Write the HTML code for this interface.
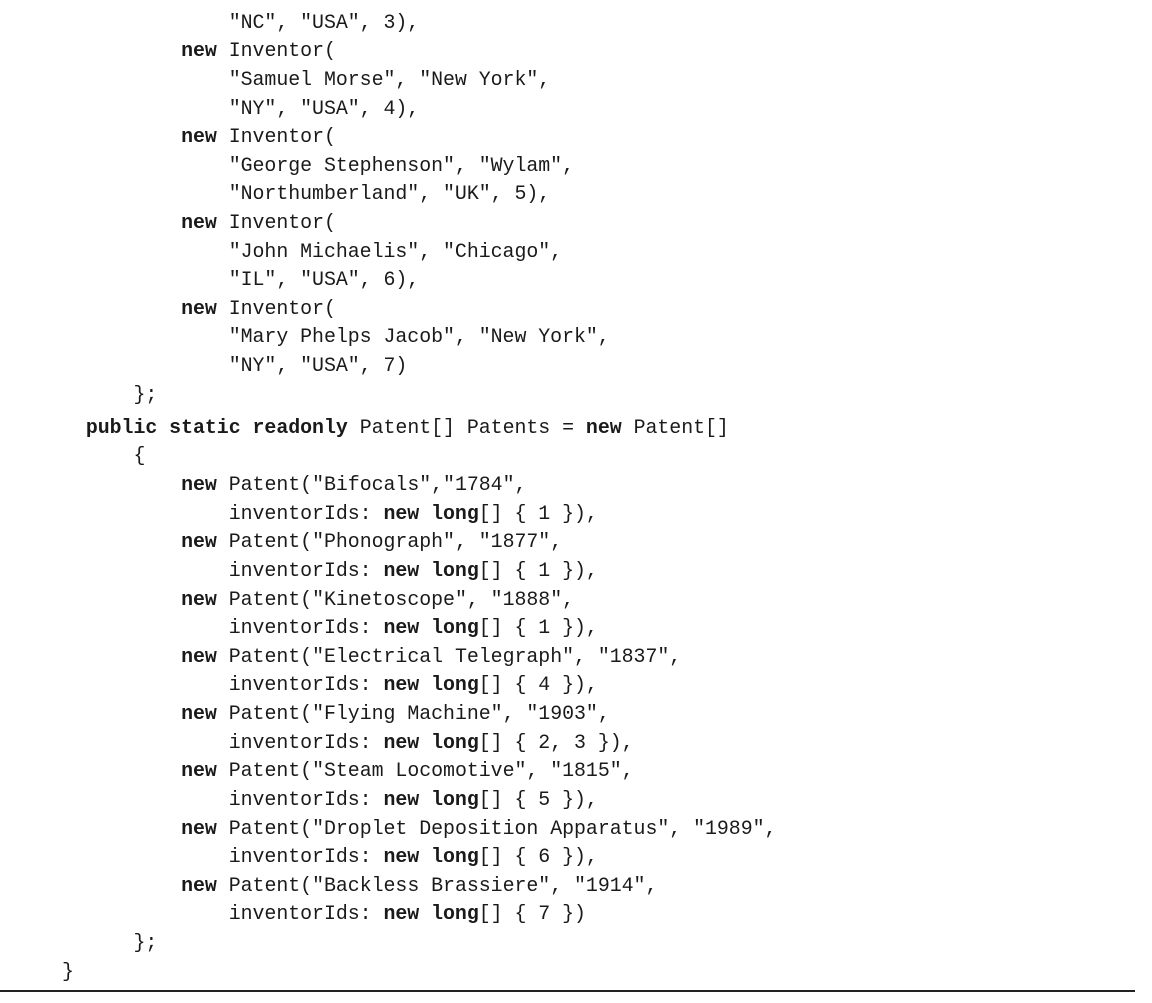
<!DOCTYPE html>
<html><head><style>
html,body{margin:0;padding:0;background:#fff;width:1152px;height:1003px;overflow:hidden;position:relative}
.l{position:absolute;left:62px;white-space:pre;font-family:"Liberation Mono",monospace;font-size:19.9px;line-height:28.6px;height:28.6px;color:#1a1a1a;letter-spacing:-0.03px;margin-top:1px}
b{font-weight:bold}
.rule{position:absolute;left:0;top:990px;width:1135px;height:1.5px;background:#222}
</style></head><body>
<div class="l" style="top:7.7px">              "NC", "USA", 3),</div>
<div class="l" style="top:36.3px">          <b>new</b> Inventor(</div>
<div class="l" style="top:64.9px">              "Samuel Morse", "New York",</div>
<div class="l" style="top:93.5px">              "NY", "USA", 4),</div>
<div class="l" style="top:122.1px">          <b>new</b> Inventor(</div>
<div class="l" style="top:150.7px">              "George Stephenson", "Wylam",</div>
<div class="l" style="top:179.3px">              "Northumberland", "UK", 5),</div>
<div class="l" style="top:207.9px">          <b>new</b> Inventor(</div>
<div class="l" style="top:236.5px">              "John Michaelis", "Chicago",</div>
<div class="l" style="top:265.1px">              "IL", "USA", 6),</div>
<div class="l" style="top:293.7px">          <b>new</b> Inventor(</div>
<div class="l" style="top:322.3px">              "Mary Phelps Jacob", "New York",</div>
<div class="l" style="top:350.9px">              "NY", "USA", 7)</div>
<div class="l" style="top:379.5px">      };</div>
<div class="l" style="top:412.7px">  <b>public static readonly</b> Patent[] Patents = <b>new</b> Patent[]</div>
<div class="l" style="top:441.3px">      {</div>
<div class="l" style="top:469.9px">          <b>new</b> Patent("Bifocals","1784",</div>
<div class="l" style="top:498.6px">              inventorIds: <b>new long</b>[] { 1 }),</div>
<div class="l" style="top:527.2px">          <b>new</b> Patent("Phonograph", "1877",</div>
<div class="l" style="top:555.8px">              inventorIds: <b>new long</b>[] { 1 }),</div>
<div class="l" style="top:584.5px">          <b>new</b> Patent("Kinetoscope", "1888",</div>
<div class="l" style="top:613.1px">              inventorIds: <b>new long</b>[] { 1 }),</div>
<div class="l" style="top:641.7px">          <b>new</b> Patent("Electrical Telegraph", "1837",</div>
<div class="l" style="top:670.4px">              inventorIds: <b>new long</b>[] { 4 }),</div>
<div class="l" style="top:699.0px">          <b>new</b> Patent("Flying Machine", "1903",</div>
<div class="l" style="top:727.6px">              inventorIds: <b>new long</b>[] { 2, 3 }),</div>
<div class="l" style="top:756.3px">          <b>new</b> Patent("Steam Locomotive", "1815",</div>
<div class="l" style="top:784.9px">              inventorIds: <b>new long</b>[] { 5 }),</div>
<div class="l" style="top:813.5px">          <b>new</b> Patent("Droplet Deposition Apparatus", "1989",</div>
<div class="l" style="top:842.2px">              inventorIds: <b>new long</b>[] { 6 }),</div>
<div class="l" style="top:870.8px">          <b>new</b> Patent("Backless Brassiere", "1914",</div>
<div class="l" style="top:899.4px">              inventorIds: <b>new long</b>[] { 7 })</div>
<div class="l" style="top:928.1px">      };</div>
<div class="l" style="top:956.7px">}</div>
<div class="rule"></div>
</body></html>
